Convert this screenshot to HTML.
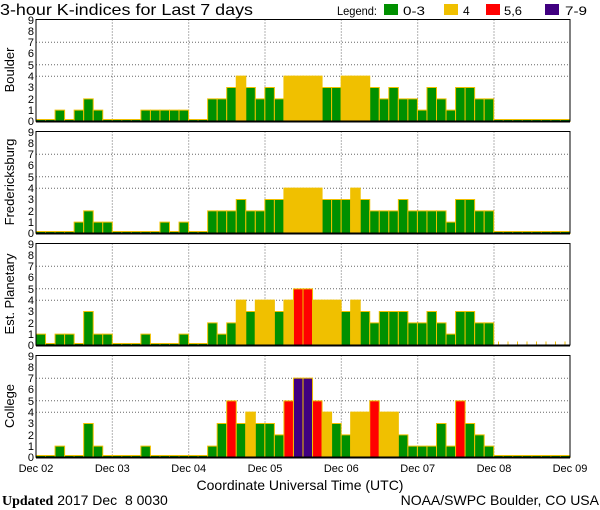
<!DOCTYPE html>
<html><head><meta charset="utf-8"><style>
html,body{margin:0;padding:0;background:#fff;}
svg{display:block;font-family:"Liberation Sans",sans-serif;}
.g{fill:#009000}.y{fill:#f0c000}.r{fill:#ff0000}.p{fill:#400080}
rect.b{stroke:#f0c000;stroke-width:1;vector-effect:non-scaling-stroke}
.grid{stroke:#666;stroke-width:1;stroke-dasharray:1,2;fill:none}
.yl{font-size:11px;text-anchor:end}
.xl{font-size:11px;text-anchor:middle}
</style></head><body>
<svg width="600" height="510" viewBox="0 0 600 510">
<text x="0" y="15" font-size="16" textLength="253" lengthAdjust="spacingAndGlyphs">3-hour K-indices for Last 7 days</text>
<text x="337" y="15" font-size="12" textLength="40" lengthAdjust="spacingAndGlyphs">Legend:</text>
<rect x="384" y="4" width="14" height="11" class="g"/><text x="403" y="15" font-size="12" textLength="22" lengthAdjust="spacingAndGlyphs">0-3</text>
<rect x="444" y="4" width="14" height="11" class="y"/><text x="463" y="15" font-size="12">4</text>
<rect x="486" y="4" width="14" height="11" class="r"/><text x="504" y="15" font-size="12" textLength="18" lengthAdjust="spacingAndGlyphs">5,6</text>
<rect x="545" y="4" width="14" height="11" class="p"/><text x="565" y="15" font-size="12" textLength="22" lengthAdjust="spacingAndGlyphs">7-9</text>

<!-- Panel 1 Boulder -->
<g>
<path class="grid" d="M36 76.2H570M36 64.8H570M36 42.2H570M112.3 19.5V121.5M188.7 19.5V121.5M265 19.5V121.5M341.3 19.5V121.5M417.7 19.5V121.5M494 19.5V121.5"/>
<g transform="translate(36,121.5) scale(9.5357,-11.333)">
<rect class="b g" x="0" width="1" height=".18"/><rect class="b g" x="1" width="1" height=".18"/><rect class="b g" x="2" width="1" height="1"/><rect class="b g" x="3" width="1" height=".18"/><rect class="b g" x="4" width="1" height="1"/><rect class="b g" x="5" width="1" height="2"/><rect class="b g" x="6" width="1" height="1"/><rect class="b g" x="7" width="1" height=".18"/>
<rect class="b g" x="8" width="1" height=".18"/><rect class="b g" x="9" width="1" height=".18"/><rect class="b g" x="10" width="1" height=".18"/><rect class="b g" x="11" width="1" height="1"/><rect class="b g" x="12" width="1" height="1"/><rect class="b g" x="13" width="1" height="1"/><rect class="b g" x="14" width="1" height="1"/><rect class="b g" x="15" width="1" height="1"/>
<rect class="b g" x="16" width="1" height=".18"/><rect class="b g" x="17" width="1" height=".18"/><rect class="b g" x="18" width="1" height="2"/><rect class="b g" x="19" width="1" height="2"/><rect class="b g" x="20" width="1" height="3"/><rect class="b y" x="21" width="1" height="4"/><rect class="b g" x="22" width="1" height="3"/><rect class="b g" x="23" width="1" height="2"/>
<rect class="b g" x="24" width="1" height="3"/><rect class="b g" x="25" width="1" height="2"/><rect class="b y" x="26" width="1" height="4"/><rect class="b y" x="27" width="1" height="4"/><rect class="b y" x="28" width="1" height="4"/><rect class="b y" x="29" width="1" height="4"/><rect class="b g" x="30" width="1" height="3"/><rect class="b g" x="31" width="1" height="3"/>
<rect class="b y" x="32" width="1" height="4"/><rect class="b y" x="33" width="1" height="4"/><rect class="b y" x="34" width="1" height="4"/><rect class="b g" x="35" width="1" height="3"/><rect class="b g" x="36" width="1" height="2"/><rect class="b g" x="37" width="1" height="3"/><rect class="b g" x="38" width="1" height="2"/><rect class="b g" x="39" width="1" height="2"/>
<rect class="b g" x="40" width="1" height="1"/><rect class="b g" x="41" width="1" height="3"/><rect class="b g" x="42" width="1" height="2"/><rect class="b g" x="43" width="1" height="1"/><rect class="b g" x="44" width="1" height="3"/><rect class="b g" x="45" width="1" height="3"/><rect class="b g" x="46" width="1" height="2"/><rect class="b g" x="47" width="1" height="2"/>
<rect class="b g" x="48" width="1" height=".18"/><rect class="b g" x="49" width="1" height=".18"/><rect class="b g" x="50" width="1" height=".18"/><rect class="b g" x="51" width="1" height=".18"/><rect class="b g" x="52" width="1" height=".18"/><rect class="b g" x="53" width="1" height=".18"/><rect class="b g" x="54" width="1" height=".18"/><rect class="b g" x="55" width="1" height=".18"/>
</g>
<path d="M36 121.5V19.5H570V121.5" fill="none" stroke="#000"/><path d="M36 121.5H570" stroke="#000" stroke-width="2"/>
<g class="yl"><text x="34" y="125">0</text><text x="34" y="114">1</text><text x="34" y="103">2</text><text x="34" y="91">3</text><text x="34" y="80">4</text><text x="34" y="69">5</text><text x="34" y="57">6</text><text x="34" y="46">7</text><text x="34" y="35">8</text><text x="34" y="24">9</text></g>
<text transform="translate(14,70) rotate(-90)" font-size="13" text-anchor="middle">Boulder</text>
</g>

<!-- Panel 2 Fredericksburg -->
<g>
<path class="grid" d="M36 188.2H570M36 176.8H570M36 154.2H570M112.3 131.5V233.5M188.7 131.5V233.5M265 131.5V233.5M341.3 131.5V233.5M417.7 131.5V233.5M494 131.5V233.5"/>
<g transform="translate(36,233.5) scale(9.5357,-11.333)">
<rect class="b g" x="0" width="1" height=".18"/><rect class="b g" x="1" width="1" height=".18"/><rect class="b g" x="2" width="1" height=".18"/><rect class="b g" x="3" width="1" height=".18"/><rect class="b g" x="4" width="1" height="1"/><rect class="b g" x="5" width="1" height="2"/><rect class="b g" x="6" width="1" height="1"/><rect class="b g" x="7" width="1" height="1"/>
<rect class="b g" x="8" width="1" height=".18"/><rect class="b g" x="9" width="1" height=".18"/><rect class="b g" x="10" width="1" height=".18"/><rect class="b g" x="11" width="1" height=".18"/><rect class="b g" x="12" width="1" height=".18"/><rect class="b g" x="13" width="1" height="1"/><rect class="b g" x="14" width="1" height=".18"/><rect class="b g" x="15" width="1" height="1"/>
<rect class="b g" x="16" width="1" height=".18"/><rect class="b g" x="17" width="1" height=".18"/><rect class="b g" x="18" width="1" height="2"/><rect class="b g" x="19" width="1" height="2"/><rect class="b g" x="20" width="1" height="2"/><rect class="b g" x="21" width="1" height="3"/><rect class="b g" x="22" width="1" height="2"/><rect class="b g" x="23" width="1" height="2"/>
<rect class="b g" x="24" width="1" height="3"/><rect class="b g" x="25" width="1" height="3"/><rect class="b y" x="26" width="1" height="4"/><rect class="b y" x="27" width="1" height="4"/><rect class="b y" x="28" width="1" height="4"/><rect class="b y" x="29" width="1" height="4"/><rect class="b g" x="30" width="1" height="3"/><rect class="b g" x="31" width="1" height="3"/>
<rect class="b g" x="32" width="1" height="3"/><rect class="b y" x="33" width="1" height="4"/><rect class="b g" x="34" width="1" height="3"/><rect class="b g" x="35" width="1" height="2"/><rect class="b g" x="36" width="1" height="2"/><rect class="b g" x="37" width="1" height="2"/><rect class="b g" x="38" width="1" height="3"/><rect class="b g" x="39" width="1" height="2"/>
<rect class="b g" x="40" width="1" height="2"/><rect class="b g" x="41" width="1" height="2"/><rect class="b g" x="42" width="1" height="2"/><rect class="b g" x="43" width="1" height="1"/><rect class="b g" x="44" width="1" height="3"/><rect class="b g" x="45" width="1" height="3"/><rect class="b g" x="46" width="1" height="2"/><rect class="b g" x="47" width="1" height="2"/>
<rect class="b g" x="48" width="1" height=".18"/><rect class="b g" x="49" width="1" height=".18"/><rect class="b g" x="50" width="1" height=".18"/><rect class="b g" x="51" width="1" height=".18"/><rect class="b g" x="52" width="1" height=".18"/><rect class="b g" x="53" width="1" height=".18"/><rect class="b g" x="54" width="1" height=".18"/><rect class="b g" x="55" width="1" height=".18"/>
</g>
<path d="M36 233.5V131.5H570V233.5" fill="none" stroke="#000"/><path d="M36 233.5H570" stroke="#000" stroke-width="2"/>
<g class="yl"><text x="34" y="237">0</text><text x="34" y="226">1</text><text x="34" y="215">2</text><text x="34" y="203">3</text><text x="34" y="192">4</text><text x="34" y="181">5</text><text x="34" y="169">6</text><text x="34" y="158">7</text><text x="34" y="147">8</text><text x="34" y="136">9</text></g>
<text transform="translate(14,182) rotate(-90)" font-size="13" text-anchor="middle">Fredericksburg</text>
</g>

<!-- Panel 3 Est. Planetary -->
<g>
<path class="grid" d="M36 300.2H570M36 288.8H570M36 266.2H570M112.3 243.5V345.5M188.7 243.5V345.5M265 243.5V345.5M341.3 243.5V345.5M417.7 243.5V345.5M494 243.5V345.5"/>
<g transform="translate(36,345.5) scale(9.5357,-11.333)">
<rect class="b g" x="0" width="1" height="1"/><rect class="b g" x="1" width="1" height=".18"/><rect class="b g" x="2" width="1" height="1"/><rect class="b g" x="3" width="1" height="1"/><rect class="b g" x="4" width="1" height=".18"/><rect class="b g" x="5" width="1" height="3"/><rect class="b g" x="6" width="1" height="1"/><rect class="b g" x="7" width="1" height="1"/>
<rect class="b g" x="8" width="1" height=".18"/><rect class="b g" x="9" width="1" height=".18"/><rect class="b g" x="10" width="1" height=".18"/><rect class="b g" x="11" width="1" height="1"/><rect class="b g" x="12" width="1" height=".18"/><rect class="b g" x="13" width="1" height=".18"/><rect class="b g" x="14" width="1" height=".18"/><rect class="b g" x="15" width="1" height="1"/>
<rect class="b g" x="16" width="1" height=".18"/><rect class="b g" x="17" width="1" height=".18"/><rect class="b g" x="18" width="1" height="2"/><rect class="b g" x="19" width="1" height="1"/><rect class="b g" x="20" width="1" height="2"/><rect class="b y" x="21" width="1" height="4"/><rect class="b g" x="22" width="1" height="3"/><rect class="b y" x="23" width="1" height="4"/>
<rect class="b y" x="24" width="1" height="4"/><rect class="b g" x="25" width="1" height="3"/><rect class="b y" x="26" width="1" height="4"/><rect class="b r" x="27" width="1" height="5"/><rect class="b r" x="28" width="1" height="5"/><rect class="b y" x="29" width="1" height="4"/><rect class="b y" x="30" width="1" height="4"/><rect class="b y" x="31" width="1" height="4"/>
<rect class="b g" x="32" width="1" height="3"/><rect class="b y" x="33" width="1" height="4"/><rect class="b g" x="34" width="1" height="3"/><rect class="b g" x="35" width="1" height="2"/><rect class="b g" x="36" width="1" height="3"/><rect class="b g" x="37" width="1" height="3"/><rect class="b g" x="38" width="1" height="3"/><rect class="b g" x="39" width="1" height="2"/>
<rect class="b g" x="40" width="1" height="2"/><rect class="b g" x="41" width="1" height="3"/><rect class="b g" x="42" width="1" height="2"/><rect class="b g" x="43" width="1" height="1"/><rect class="b g" x="44" width="1" height="3"/><rect class="b g" x="45" width="1" height="3"/><rect class="b g" x="46" width="1" height="2"/><rect class="b g" x="47" width="1" height="2"/>
</g>
<path d="M36 345.5V243.5H570V345.5" fill="none" stroke="#000"/><path d="M36 345.5H570" stroke="#000" stroke-width="2"/>
<path d="M498.5 344.5v-3M508 344.5v-3M517.5 344.5v-3M527 344.5v-3M536.5 344.5v-3M546 344.5v-3M555.5 344.5v-3M565 344.5v-3" stroke="#f0c000"/>
<g class="yl"><text x="34" y="349">0</text><text x="34" y="338">1</text><text x="34" y="327">2</text><text x="34" y="315">3</text><text x="34" y="304">4</text><text x="34" y="293">5</text><text x="34" y="281">6</text><text x="34" y="270">7</text><text x="34" y="259">8</text><text x="34" y="248">9</text></g>
<text transform="translate(14,294) rotate(-90)" font-size="13" text-anchor="middle">Est. Planetary</text>
</g>

<!-- Panel 4 College -->
<g>
<path class="grid" d="M36 412.2H570M36 400.8H570M36 378.2H570M112.3 355.5V457.5M188.7 355.5V457.5M265 355.5V457.5M341.3 355.5V457.5M417.7 355.5V457.5M494 355.5V457.5"/>
<g transform="translate(36,457.5) scale(9.5357,-11.333)">
<rect class="b g" x="0" width="1" height=".18"/><rect class="b g" x="1" width="1" height=".18"/><rect class="b g" x="2" width="1" height="1"/><rect class="b g" x="3" width="1" height=".18"/><rect class="b g" x="4" width="1" height=".18"/><rect class="b g" x="5" width="1" height="3"/><rect class="b g" x="6" width="1" height="1"/><rect class="b g" x="7" width="1" height=".18"/>
<rect class="b g" x="8" width="1" height=".18"/><rect class="b g" x="9" width="1" height=".18"/><rect class="b g" x="10" width="1" height=".18"/><rect class="b g" x="11" width="1" height="1"/><rect class="b g" x="12" width="1" height=".18"/><rect class="b g" x="13" width="1" height=".18"/><rect class="b g" x="14" width="1" height=".18"/><rect class="b g" x="15" width="1" height=".18"/>
<rect class="b g" x="16" width="1" height=".18"/><rect class="b g" x="17" width="1" height=".18"/><rect class="b g" x="18" width="1" height="1"/><rect class="b g" x="19" width="1" height="3"/><rect class="b r" x="20" width="1" height="5"/><rect class="b g" x="21" width="1" height="3"/><rect class="b y" x="22" width="1" height="4"/><rect class="b g" x="23" width="1" height="3"/>
<rect class="b g" x="24" width="1" height="3"/><rect class="b g" x="25" width="1" height="2"/><rect class="b r" x="26" width="1" height="5"/><rect class="b p" x="27" width="1" height="7"/><rect class="b p" x="28" width="1" height="7"/><rect class="b r" x="29" width="1" height="5"/><rect class="b y" x="30" width="1" height="4"/><rect class="b g" x="31" width="1" height="3"/>
<rect class="b g" x="32" width="1" height="2"/><rect class="b y" x="33" width="1" height="4"/><rect class="b y" x="34" width="1" height="4"/><rect class="b r" x="35" width="1" height="5"/><rect class="b y" x="36" width="1" height="4"/><rect class="b y" x="37" width="1" height="4"/><rect class="b g" x="38" width="1" height="2"/><rect class="b g" x="39" width="1" height="1"/>
<rect class="b g" x="40" width="1" height="1"/><rect class="b g" x="41" width="1" height="1"/><rect class="b g" x="42" width="1" height="3"/><rect class="b g" x="43" width="1" height="1"/><rect class="b r" x="44" width="1" height="5"/><rect class="b g" x="45" width="1" height="3"/><rect class="b g" x="46" width="1" height="2"/><rect class="b g" x="47" width="1" height="1"/>
<rect class="b g" x="48" width="1" height=".18"/><rect class="b g" x="49" width="1" height=".18"/><rect class="b g" x="50" width="1" height=".18"/><rect class="b g" x="51" width="1" height=".18"/><rect class="b g" x="52" width="1" height=".18"/><rect class="b g" x="53" width="1" height=".18"/><rect class="b g" x="54" width="1" height=".18"/><rect class="b g" x="55" width="1" height=".18"/>
</g>
<path d="M36 457.5V355.5H570V457.5" fill="none" stroke="#000"/><path d="M36 457.5H570" stroke="#000" stroke-width="2"/>
<g class="yl"><text x="34" y="461">0</text><text x="34" y="450">1</text><text x="34" y="439">2</text><text x="34" y="427">3</text><text x="34" y="416">4</text><text x="34" y="405">5</text><text x="34" y="393">6</text><text x="34" y="382">7</text><text x="34" y="371">8</text><text x="34" y="360">9</text></g>
<text transform="translate(14,406) rotate(-90)" font-size="13" text-anchor="middle">College</text>
</g>

<g class="xl">
<text x="36" y="472">Dec 02</text><text x="112.3" y="472">Dec 03</text><text x="188.7" y="472">Dec 04</text><text x="265" y="472">Dec 05</text><text x="341.3" y="472">Dec 06</text><text x="417.7" y="472">Dec 07</text><text x="494" y="472">Dec 08</text><text x="570" y="472">Dec 09</text>
</g>
<text x="300" y="490" font-size="14" text-anchor="middle">Coordinate Universal Time (UTC)</text>
<text x="2" y="505" font-size="14" xml:space="preserve" style="white-space:pre"><tspan font-family="Liberation Serif" font-weight="bold">Updated</tspan> 2017 Dec  8 0030</text>
<text x="599" y="505" font-size="14" text-anchor="end">NOAA/SWPC Boulder, CO USA</text>
</svg>
</body></html>
